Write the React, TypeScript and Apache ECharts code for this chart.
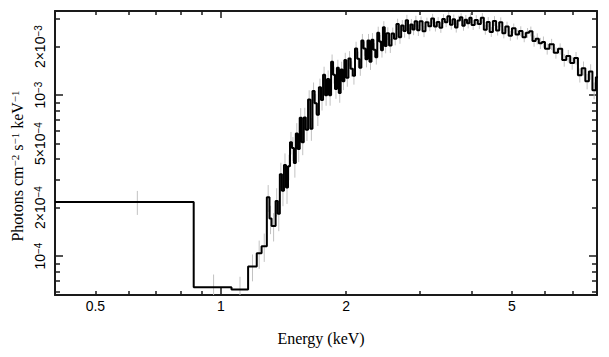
import React, { useEffect, useRef } from 'react';
import * as echarts from 'echarts';

// Spectrum bins: contiguous bin edges (keV)
const binEdgesKeV = [
  0.4, 0.861, 1.061, 1.163, 1.22, 1.253, 1.29, 1.309, 1.324, 1.354,
  1.37, 1.386, 1.402, 1.418, 1.434, 1.45, 1.466, 1.482, 1.498, 1.514, 1.53, 1.547, 1.564, 1.582, 1.6,
  1.62, 1.64, 1.66, 1.68, 1.7, 1.72, 1.74, 1.76, 1.78, 1.8, 1.82, 1.84, 1.86, 1.88, 1.9, 1.92, 1.94, 1.96, 1.98, 2.0,
  2.025, 2.05, 2.075, 2.1, 2.125, 2.15, 2.175, 2.2, 2.225, 2.25, 2.275, 2.3, 2.325, 2.35, 2.375, 2.4, 2.425, 2.45, 2.475, 2.5,
  2.535, 2.57, 2.605, 2.64, 2.675, 2.71, 2.745, 2.78, 2.815, 2.85, 2.885, 2.92, 2.96, 3.0,
  3.05, 3.1, 3.15, 3.2, 3.25, 3.3, 3.35, 3.4, 3.45, 3.5, 3.55, 3.6, 3.65, 3.7, 3.75, 3.8, 3.85, 3.9, 3.95, 4.0,
  4.07, 4.14, 4.21, 4.28, 4.35, 4.42, 4.5, 4.58, 4.66, 4.74, 4.82, 4.91, 5.0,
  5.1, 5.2, 5.3, 5.4, 5.5, 5.6, 5.7, 5.8, 5.9, 6.0,
  6.15, 6.3, 6.45, 6.6, 6.75, 6.9, 7.05, 7.2, 7.35, 7.5, 7.65, 7.8, 7.95, 8.1,
];

// Flux per bin, in units of 1e-4 photons cm^-2 s^-1 keV^-1
const fluxE4 = [
  2.17, 0.64, 0.62, 0.86, 1.04, 1.15, 2.32, 1.71, 1.54,
  2.2, 1.83, 3.22, 2.55, 3.68, 2.67, 3.61, 5.09, 4.69, 3.79, 5.77, 4.62, 7.22, 5.1, 7.25,
  6.1, 9.4, 6.19, 10.6, 8.9, 7.56, 11.2, 9.33, 13.4, 9.98, 12.6, 9.99, 16.1, 13.4, 10.9, 14.8, 10.3, 14.4, 12.2, 16.5,
  12.8, 16.9, 14.6, 13.2, 19.5, 16.8, 14.8, 21.8, 19.5, 16.7, 21.8, 16.1, 22.1, 19.1, 17.2, 24.4, 21.5, 19.0, 26.4, 20.2,
  24.2, 20.3, 24.1, 22.4, 27.6, 22.9, 27.1, 25.0, 29.2, 24.2, 27.5, 25.6, 28.8, 25.3,
  28.8, 24.9, 28.3, 26.8, 29.9, 26.7, 28.5, 26.2, 29.7, 28.4, 30.9, 27.4, 29.6, 26.3, 29.1, 30.4, 27.0, 29.4, 27.9, 30.2,
  27.3, 29.3, 27.6, 30.2, 25.5, 28.5, 24.7, 28.9, 25.2, 28.4, 24.2, 26.7, 23.4,
  26.0, 23.8, 25.0, 22.9, 24.4, 24.9, 21.7, 22.4, 21.0, 21.4,
  19.4, 20.7, 18.3, 19.4, 16.5, 17.5, 15.8, 17.0, 13.3, 14.7, 12.2, 14.0, 10.7, 12.9,
];

// Relative 1-sigma error per bin
const errFrac = [
  0.17, 0.2, 0.2, 0.19, 0.2, 0.2, 0.19, 0.2, 0.2,
  0.2, 0.22, 0.18, 0.2, 0.18, 0.21, 0.18, 0.16, 0.17, 0.19, 0.16, 0.17, 0.15, 0.17, 0.15,
  0.15, 0.14, 0.16, 0.13, 0.14, 0.15, 0.13, 0.14, 0.12, 0.14, 0.13, 0.14, 0.11, 0.12, 0.13, 0.12, 0.13, 0.12, 0.12, 0.11,
  0.12, 0.11, 0.11, 0.12, 0.1, 0.11, 0.11, 0.1, 0.1, 0.11, 0.1, 0.11, 0.1, 0.1, 0.1, 0.09, 0.1, 0.1, 0.09, 0.1,
  0.09, 0.1, 0.09, 0.09, 0.08, 0.09, 0.08, 0.09, 0.08, 0.08, 0.08, 0.08, 0.08, 0.08,
  0.07, 0.08, 0.07, 0.07, 0.07, 0.07, 0.07, 0.07, 0.07, 0.07, 0.06, 0.07, 0.07, 0.07, 0.07, 0.06, 0.07, 0.07, 0.07, 0.07,
  0.07, 0.07, 0.07, 0.07, 0.07, 0.07, 0.07, 0.07, 0.07, 0.07, 0.07, 0.07, 0.07,
  0.07, 0.07, 0.07, 0.07, 0.07, 0.07, 0.08, 0.08, 0.08, 0.08,
  0.08, 0.08, 0.08, 0.08, 0.09, 0.09, 0.09, 0.09, 0.1, 0.1, 0.11, 0.11, 0.12, 0.12,
];

const xTickLabels = [0.5, 1, 2, 5];
const xMinorTicks = [0.5, 0.6, 0.7, 0.8, 0.9, 2, 3, 4, 5, 6, 7];
const xMajorTicks = [1];
const yTickLabels = [1e-4, 2e-4, 5e-4, 1e-3, 2e-3];
const yMinorTicks = [6e-5, 7e-5, 8e-5, 9e-5, 2e-4, 3e-4, 4e-4, 5e-4, 6e-4, 7e-4, 8e-4, 9e-4, 2e-3, 3e-3];
const yMajorTicks = [1e-4, 1e-3];

const X_MIN = 0.4;
const X_MAX = 8;
const Y_MIN = 5.73e-5;
const Y_MAX = 3.33e-3;

const L = (v: number) => Math.log10(v);
const AXIS_COLOR = '#1a1a1a';

function xAxisDef(position: string, ticks: number[], len: number, labels: boolean, showLine: boolean) {
  return {
    type: 'value',
    position,
    min: L(X_MIN),
    max: L(X_MAX),
    axisLine: { show: showLine, onZero: false, lineStyle: { color: AXIS_COLOR, width: 2 } },
    axisTick: { show: true, inside: true, length: len, customValues: ticks.map(L), lineStyle: { color: AXIS_COLOR, width: 1.5 } },
    axisLabel: labels
      ? {
          show: true,
          customValues: xTickLabels.map(L),
          margin: 4,
          fontFamily: 'Liberation Sans',
          fontSize: 14,
          color: '#000',
          formatter: (v: number) => {
            const val = Math.pow(10, v);
            return val < 1 ? val.toFixed(1) : String(Math.round(val));
          },
        }
      : { show: false },
    splitLine: { show: false },
  };
}

function yAxisDef(position: string, ticks: number[], len: number, labels: boolean, showLine: boolean) {
  return {
    type: 'value',
    position,
    min: L(Y_MIN),
    max: L(Y_MAX),
    axisLine: { show: showLine, onZero: false, lineStyle: { color: AXIS_COLOR, width: 2 } },
    axisTick: { show: true, inside: true, length: len, customValues: ticks.map(L), lineStyle: { color: AXIS_COLOR, width: 1.5 } },
    axisLabel: labels
      ? {
          show: true,
          customValues: yTickLabels.map(L),
          rotate: 90,
          margin: 8,
          formatter: (v: number) => {
            const val = Math.pow(10, v);
            const e = Math.floor(v + 1e-6);
            const m = Math.round(val / Math.pow(10, e));
            const exp = '\u2212' + String(-e);
            return m === 1 ? `{b|10}{s|${exp}}` : `{b|${m}\u00d710}{s|${exp}}`;
          },
          rich: {
            b: { fontFamily: 'Liberation Sans', fontSize: 14, color: '#000' },
            s: { fontFamily: 'Liberation Sans', fontSize: 10, color: '#000', verticalAlign: 'top' },
          },
        }
      : { show: false },
    splitLine: { show: false },
  };
}

export default function App() {
  const ref = useRef<HTMLDivElement>(null);

  useEffect(() => {
    document.body.style.margin = '0';
    if (!ref.current) return;
    const chart = echarts.init(ref.current, undefined, { renderer: 'svg' });

    const stepData: number[][] = [];
    const errData: number[][] = [];
    for (let i = 0; i < fluxE4.length; i++) {
      const lo = binEdgesKeV[i];
      const hi = binEdgesKeV[i + 1];
      const v = fluxE4[i] * 1e-4;
      stepData.push([L(lo), L(v)], [L(hi), L(v)]);
      const xc = (lo + hi) / 2;
      errData.push([L(xc), L(v * (1 - errFrac[i])), L(v * (1 + errFrac[i]))]);
    }

    chart.setOption({
      animation: false,
      backgroundColor: '#fff',
      grid: { left: 55, right: 12, top: 11, bottom: 62, containLabel: false, outerBoundsMode: 'none' },
      xAxis: [
        xAxisDef('bottom', xMinorTicks, 4, true, true),
        xAxisDef('bottom', xMajorTicks, 7, false, false),
        xAxisDef('top', xMinorTicks, 4, false, true),
        xAxisDef('top', xMajorTicks, 7, false, false),
      ],
      yAxis: [
        yAxisDef('left', yMinorTicks, 5, true, true),
        yAxisDef('left', yMajorTicks, 8, false, false),
        yAxisDef('right', yMinorTicks, 5, false, true),
        yAxisDef('right', yMajorTicks, 8, false, false),
      ],
      graphic: [
        {
          type: 'text',
          x: 321,
          y: 338,
          style: {
            text: 'Energy (keV)',
            fontFamily: 'Liberation Serif',
            fontSize: 16,
            fill: '#000',
            align: 'center',
            verticalAlign: 'middle',
          },
        },
        {
          type: 'text',
          x: 17,
          y: 166,
          rotation: Math.PI / 2,
          style: {
            text: '{a|Photons cm}{s|\u22122}{a| s}{s|\u22121}{a| keV}{s|\u22121}',
            rich: {
              a: { fontFamily: 'Liberation Serif', fontSize: 16, fill: '#000' },
              s: { fontFamily: 'Liberation Serif', fontSize: 11, fill: '#000', verticalAlign: 'top' },
            },
            align: 'center',
            verticalAlign: 'middle',
          },
        },
      ],
      series: [
        {
          type: 'custom',
          xAxisIndex: 0,
          yAxisIndex: 0,
          clip: true,
          silent: true,
          z: 1,
          data: errData,
          encode: { x: 0, y: [1, 2] },
          renderItem: (params: any, api: any) => {
            const x = api.value(0);
            const p1 = api.coord([x, api.value(1)]);
            const p2 = api.coord([x, api.value(2)]);
            return {
              type: 'line',
              shape: { x1: p1[0], y1: p1[1], x2: p2[0], y2: p2[1] },
              style: { stroke: '#c2c2c2', lineWidth: 1 },
            };
          },
        },
        {
          type: 'line',
          xAxisIndex: 0,
          yAxisIndex: 0,
          data: stepData,
          showSymbol: false,
          symbol: 'none',
          silent: true,
          clip: true,
          z: 3,
          lineStyle: { color: '#000', width: 2 },
        },
      ],
    });

    return () => chart.dispose();
  }, []);

  return <div ref={ref} style={{ width: 609, height: 357 }} />;
}
